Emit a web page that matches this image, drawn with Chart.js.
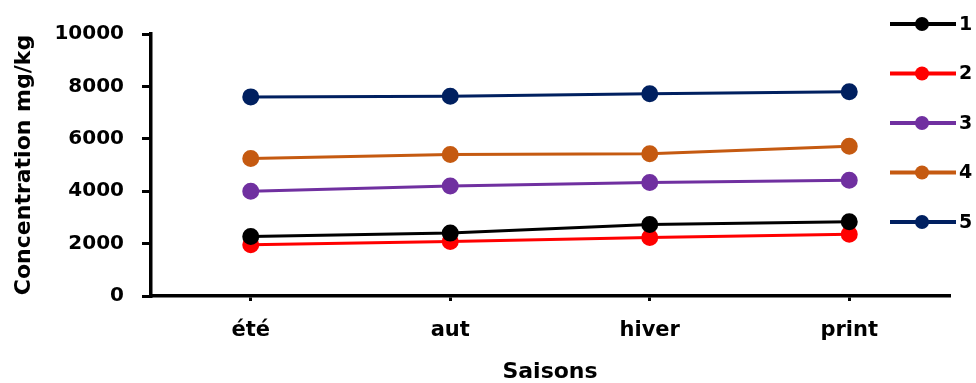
<!DOCTYPE html>
<html>
<head>
<meta charset="utf-8">
<script src="https://cdn.jsdelivr.net/npm/chart.js@4/dist/chart.umd.min.js"></script>
<style>
  html, body { margin: 0; padding: 0; background: #fff; }
  #wrap { width: 976px; height: 383px; position: relative; }
</style>
</head>
<body>
<div id="wrap"><canvas id="c" width="976" height="383"></canvas></div>
<script>
const saisons = ['été', 'aut', 'hiver', 'print'];
const serie1 = [2270, 2400, 2730, 2830];
const serie2 = [1960, 2080, 2230, 2360];
const serie3 = [4000, 4200, 4330, 4420];
const serie4 = [5250, 5400, 5430, 5720];
const serie5 = [7600, 7620, 7720, 7800];
const serieNames = ['1', '2', '3', '4', '5'];
const serieColors = ['#000000', '#ff0000', '#7030a0', '#c55a11', '#002060'];
const serieValues = [serie1, serie2, serie3, serie4, serie5];

const FONT = "'DejaVu Sans', sans-serif";

const datasets = serieValues.map((vals, i) => ({
  label: serieNames[i],
  data: vals,
  borderColor: serieColors[i],
  backgroundColor: serieColors[i],
  pointBackgroundColor: serieColors[i],
  pointBorderColor: serieColors[i],
  borderWidth: 3,
  pointRadius: 7,
  pointHoverRadius: 7,
  tension: 0
}));

// Legend on the right: short line with a marker, then the series name
const sideLegend = {
  id: 'sideLegend',
  afterDraw(chart) {
    const ctx = chart.ctx;
    ctx.save();
    chart.data.datasets.forEach((ds, i) => {
      const y = 24 + i * 49.5;
      ctx.strokeStyle = ds.borderColor;
      ctx.lineWidth = 4;
      ctx.beginPath();
      ctx.moveTo(890, y);
      ctx.lineTo(956, y);
      ctx.stroke();
      ctx.fillStyle = ds.borderColor;
      ctx.beginPath();
      ctx.arc(922, y, 7, 0, Math.PI * 2);
      ctx.fill();
      ctx.fillStyle = '#000';
      ctx.font = "bold 19px " + FONT;
      ctx.textAlign = 'left';
      ctx.textBaseline = 'middle';
      ctx.fillText(ds.label, 959, y + 1);
    });
    ctx.restore();
  }
};

new Chart(document.getElementById('c'), {
  type: 'line',
  data: { labels: saisons, datasets: datasets },
  options: {
    responsive: false,
    animation: false,
    layout: { padding: { top: 34, right: 27, left: 8, bottom: 0 } },
    plugins: { legend: { display: false }, tooltip: { enabled: false } },
    scales: {
      x: {
        offset: true,
        border: { color: '#000', width: 3.5 },
        grid: { display: true, drawOnChartArea: false, drawTicks: true, tickLength: 5, color: '#000', lineWidth: 3 },
        ticks: { color: '#000', font: { family: FONT, size: 21, weight: 'bold' }, padding: 17 },
        title: { display: true, text: 'Saisons', color: '#000', font: { family: FONT, size: 22, weight: 'bold', lineHeight: 1 }, padding: { top: 0, bottom: 0 } },
        afterFit(scale) { scale.height = 87; }
      },
      y: {
        min: 0,
        max: 10000,
        border: { color: '#000', width: 3.5 },
        grid: { display: true, drawOnChartArea: false, drawTicks: true, tickLength: 9, color: '#000', lineWidth: 3 },
        ticks: {
          stepSize: 2000,
          color: '#000',
          font: { family: FONT, size: 20, weight: 'bold' },
          padding: 18,
          callback: (v) => String(v)
        },
        title: { display: true, text: 'Concentration mg/kg', color: '#000', font: { family: FONT, size: 22, weight: 'bold' }, padding: { top: 3, bottom: 0 } },
        afterFit(scale) { scale.width = 143; }
      }
    }
  },
  plugins: [sideLegend]
});
</script>
</body>
</html>
